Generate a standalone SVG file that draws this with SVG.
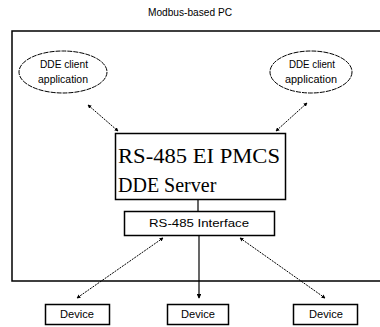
<svg xmlns="http://www.w3.org/2000/svg" width="380" height="327" viewBox="0 0 380 327">
<defs>
<style>
.box{fill:#fff;stroke:#000;stroke-width:1.5}
.ell{fill:#fff;stroke:#000;stroke-width:1;stroke-dasharray:5,1}
.sm{font-family:"Liberation Sans Narrow","Liberation Sans",Arial,sans-serif;font-size:11px;fill:#000;text-anchor:middle}
.big{font-family:"Liberation Serif","Times New Roman",serif;font-size:20px;fill:#000}
.dash{stroke:#000;stroke-width:1;stroke-dasharray:2,1;fill:none}
.solid{stroke:#000;stroke-width:1.2;fill:none}
</style>
<marker id="ah" viewBox="0 0 6 6" refX="5" refY="3" markerWidth="4" markerHeight="4" orient="auto-start-reverse">
<path d="M0,0 L6,3 L0,6 z" fill="#000"/>
</marker>
</defs>
<rect width="380" height="327" fill="#fff"/>
<g id="pc">
<text class="sm" x="190" y="16" textLength="84" lengthAdjust="spacingAndGlyphs">Modbus-based PC</text>
<path d="M380,31 H12 V281 H380" fill="none" stroke="#000" stroke-width="1.5"/>
</g>
<g id="client1">
<ellipse class="ell" cx="63" cy="72" rx="44" ry="21"/>
<text class="sm" x="64" y="68" textLength="48" lengthAdjust="spacingAndGlyphs">DDE client</text>
<text class="sm" x="63" y="83" textLength="50" lengthAdjust="spacingAndGlyphs">application</text>
</g>
<g id="client2">
<ellipse class="ell" cx="311" cy="72" rx="41" ry="21"/>
<text class="sm" x="312" y="68" textLength="46" lengthAdjust="spacingAndGlyphs">DDE client</text>
<text class="sm" x="311" y="83" textLength="52" lengthAdjust="spacingAndGlyphs">application</text>
</g>
<g id="server">
<rect class="box" x="115.5" y="133.5" width="170" height="66"/>
<text class="big" x="118" y="163" textLength="162" lengthAdjust="spacingAndGlyphs">RS-485 EI PMCS</text>
<text class="big" x="118" y="192">DDE Server</text>
</g>
<g id="interface">
<rect class="box" x="124.5" y="211.5" width="150" height="24"/>
<text class="sm" x="199" y="227" textLength="100" lengthAdjust="spacingAndGlyphs">RS-485 Interface</text>
</g>
<g id="device1">
<rect class="box" x="45.5" y="304.5" width="64" height="20"/>
<text class="sm" x="77" y="318" textLength="34" lengthAdjust="spacingAndGlyphs">Device</text>
</g>
<g id="device2">
<rect class="box" x="167.5" y="304.5" width="61" height="20"/>
<text class="sm" x="198" y="318" textLength="34" lengthAdjust="spacingAndGlyphs">Device</text>
</g>
<g id="device3">
<rect class="box" x="293.5" y="304.5" width="64" height="20"/>
<text class="sm" x="326" y="318" textLength="34" lengthAdjust="spacingAndGlyphs">Device</text>
</g>
<g id="connectors">
<line class="dash" x1="88" y1="105" x2="118" y2="131" marker-start="url(#ah)" marker-end="url(#ah)"/>
<line class="dash" x1="307" y1="103" x2="276" y2="131" marker-start="url(#ah)" marker-end="url(#ah)"/>
<line class="solid" x1="198" y1="200" x2="198" y2="211"/>
<line class="dash" x1="163" y1="238" x2="77" y2="298" marker-start="url(#ah)" marker-end="url(#ah)"/>
<line class="solid" x1="199" y1="236" x2="199" y2="298" marker-end="url(#ah)"/>
<line class="dash" x1="240" y1="238" x2="325" y2="298" marker-start="url(#ah)" marker-end="url(#ah)"/>
</g>
</svg>
